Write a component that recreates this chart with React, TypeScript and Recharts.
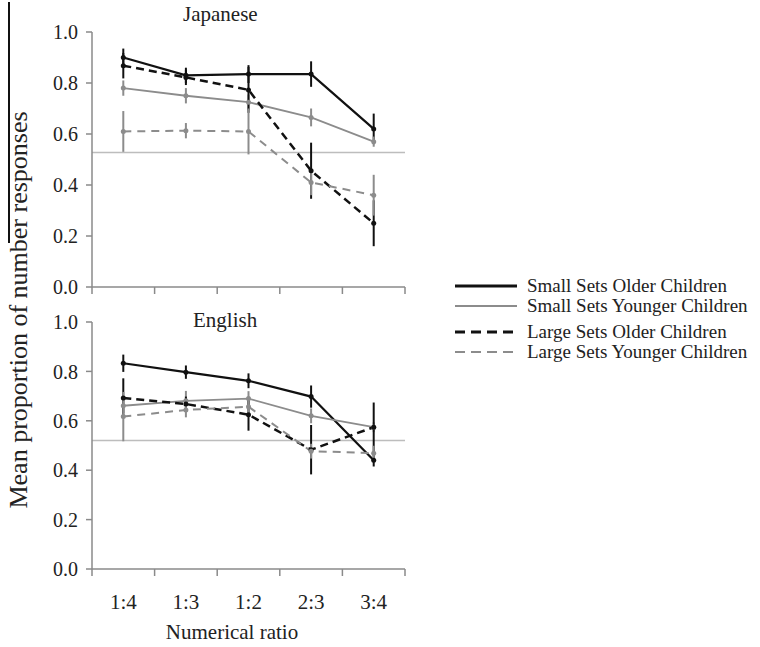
import React from 'react';
import { LineChart, Line, XAxis, YAxis, ReferenceLine, ErrorBar } from 'recharts';

const ratios = ['1:4', '1:3', '1:2', '2:3', '3:4'];
const yTicks = [0, 0.2, 0.4, 0.6, 0.8, 1.0];
const xTicks = [0.5, 1, 1.5, 2, 2.5, 3, 3.5, 4, 4.5, 5, 5.5];

const seriesNames = [
  'Small Sets Older Children',
  'Small Sets Younger Children',
  'Large Sets Older Children',
  'Large Sets Younger Children',
];

// Japanese panel
const jpSmallOlder = [0.9, 0.83, 0.835, 0.835, 0.62];
const jpSmallOlderErr = [0.035, 0.03, 0.035, 0.05, 0.06];
const jpSmallYounger = [0.78, 0.75, 0.725, 0.665, 0.57];
const jpSmallYoungerErr = [0.03, 0.03, 0.03, 0.035, 0.02];
const jpLargeOlder = [0.868, 0.822, 0.773, 0.456, 0.25];
const jpLargeOlderErr = [0.05, 0.03, 0.09, 0.11, 0.09];
const jpLargeYounger = [0.61, 0.613, 0.61, 0.41, 0.36];
const jpLargeYoungerErr = [0.08, 0.03, 0.09, 0.05, 0.08];
const jpChance = 0.527;

// English panel
const enSmallOlder = [0.833, 0.797, 0.762, 0.698, 0.44];
const enSmallOlderErr = [0.035, 0.027, 0.03, 0.045, 0.025];
const enSmallYounger = [0.661, 0.681, 0.69, 0.62, 0.574];
const enSmallYoungerErr = [0.03, 0.04, 0.03, 0.03, 0.02];
const enLargeOlder = [0.692, 0.668, 0.625, 0.483, 0.574];
const enLargeOlderErr = [0.08, 0.03, 0.065, 0.1, 0.1];
const enLargeYounger = [0.617, 0.644, 0.657, 0.477, 0.469];
const enLargeYoungerErr = [0.1, 0.03, 0.03, 0.03, 0.03];
const enChance = 0.52;

const FONT = '"Liberation Serif", "Times New Roman", serif';
const AXIS = '#8a8a8a';
const BLACK = '#111';
const GRAY = '#8c8c8c';

const styles = [
  { stroke: BLACK, width: 2.2, dash: undefined },
  { stroke: GRAY, width: 1.8, dash: undefined },
  { stroke: BLACK, width: 2.5, dash: '8 5' },
  { stroke: GRAY, width: 2, dash: '8 6' },
];

function buildRows(vals: number[][], errs: number[][]) {
  return ratios.map((r, i) => ({
    x: i + 1,
    label: r,
    s0: vals[0][i], e0: errs[0][i],
    s1: vals[1][i], e1: errs[1][i],
    s2: vals[2][i], e2: errs[2][i],
    s3: vals[3][i], e3: errs[3][i],
  }));
}

const jpRows = buildRows(
  [jpSmallOlder, jpSmallYounger, jpLargeOlder, jpLargeYounger],
  [jpSmallOlderErr, jpSmallYoungerErr, jpLargeOlderErr, jpLargeYoungerErr]
);
const enRows = buildRows(
  [enSmallOlder, enSmallYounger, enLargeOlder, enLargeYounger],
  [enSmallOlderErr, enSmallYoungerErr, enLargeOlderErr, enLargeYoungerErr]
);

const XTick = (props: any) => {
  const { x, y, payload, showLabels } = props;
  const v = payload.value;
  if (Number.isInteger(v)) {
    if (!showLabels) return null;
    return (
      <text x={x} y={y + 40} textAnchor="middle" fontFamily={FONT} fontSize={21} fill="#222">
        {ratios[v - 1]}
      </text>
    );
  }
  return <line x1={x} x2={x} y1={y} y2={y + 7} stroke={AXIS} strokeWidth={1.5} />;
};

function Panel({ rows, chance, height, bottom, xHeight, showLabels }: any) {
  return (
    <LineChart
      width={420}
      height={height}
      data={rows}
      margin={{ top: 32, right: 15, left: 0, bottom }}
    >
      <XAxis
        dataKey="x"
        type="number"
        domain={[0.5, 5.5]}
        ticks={xTicks}
        interval={0}
        tickLine={false}
        tickSize={0}
        tickMargin={0}
        height={xHeight}
        stroke={AXIS}
        strokeWidth={1.5}
        tick={<XTick showLabels={showLabels} />}
      />
      <YAxis
        type="number"
        domain={[0, 1]}
        ticks={yTicks}
        width={92}
        stroke={AXIS}
        strokeWidth={1.5}
        tickSize={6}
        tickMargin={8}
        tickFormatter={(v: number) => v.toFixed(1)}
        tick={{ fill: '#222', fontSize: 20, fontFamily: FONT }}
      />
      <ReferenceLine y={chance} stroke="#bdbdbd" strokeWidth={1.5} />
      {styles.map((s, i) => (
        <Line
          key={i}
          dataKey={`s${i}`}
          name={seriesNames[i]}
          stroke={s.stroke}
          strokeWidth={s.width}
          strokeDasharray={s.dash}
          dot={{ r: 2.5, fill: s.stroke, stroke: s.stroke, strokeWidth: 0, strokeDasharray: '' }}
          isAnimationActive={false}
        >
          <ErrorBar dataKey={`e${i}`} width={0} stroke={s.stroke} strokeWidth={2} direction="y" />
        </Line>
      ))}
    </LineChart>
  );
}

function LegendBox() {
  const rowsY = [286, 306, 332, 352];
  return (
    <div style={{ position: 'absolute', left: 450, top: 0 }}>
      {styles.map((s, i) => (
        <div
          key={i}
          style={{ position: 'absolute', top: rowsY[i] - 12, left: 0, display: 'flex', alignItems: 'center', whiteSpace: 'nowrap' }}
        >
          <svg width={70} height={24}>
            <line x1={5} x2={67} y1={12} y2={12} stroke={s.stroke} strokeWidth={i % 2 === 0 ? 3 : 2.2} strokeDasharray={s.dash ? '10 6' : undefined} />
          </svg>
          <span style={{ fontFamily: FONT, fontSize: 19, color: '#222', marginLeft: 7, lineHeight: '24px' }}>
            {seriesNames[i]}
          </span>
        </div>
      ))}
    </div>
  );
}

export default function App() {
  return (
    <div style={{ position: 'absolute', left: 0, top: 0, width: 760, height: 647, background: '#fff' }}>
      <div style={{ position: 'absolute', left: 8, top: 2, width: 1.5, height: 241, background: '#111' }} />
      <div style={{ position: 'absolute', left: 0, top: 0 }}>
        <Panel rows={jpRows} chance={jpChance} height={300} bottom={3} xHeight={10} showLabels={false} />
      </div>
      <div style={{ position: 'absolute', left: 0, top: 290 }}>
        <Panel rows={enRows} chance={enChance} height={357} bottom={18} xHeight={60} showLabels={true} />
      </div>
      <div style={{ position: 'absolute', left: 183, top: 2, fontFamily: FONT, fontSize: 21, color: '#222' }}>Japanese</div>
      <div style={{ position: 'absolute', left: 193, top: 308, fontFamily: FONT, fontSize: 21, color: '#222' }}>English</div>
      <div style={{ position: 'absolute', left: 232, top: 632, transform: 'translate(-50%, -50%)', fontFamily: FONT, fontSize: 21, color: '#222', whiteSpace: 'nowrap' }}>
        Numerical ratio
      </div>
      <div
        style={{
          position: 'absolute', left: 19, top: 310, transform: 'translate(-50%, -50%) rotate(-90deg)',
          fontFamily: FONT, fontSize: 26, color: '#222', whiteSpace: 'nowrap',
        }}
      >
        Mean proportion of number responses
      </div>
      <LegendBox />
    </div>
  );
}
